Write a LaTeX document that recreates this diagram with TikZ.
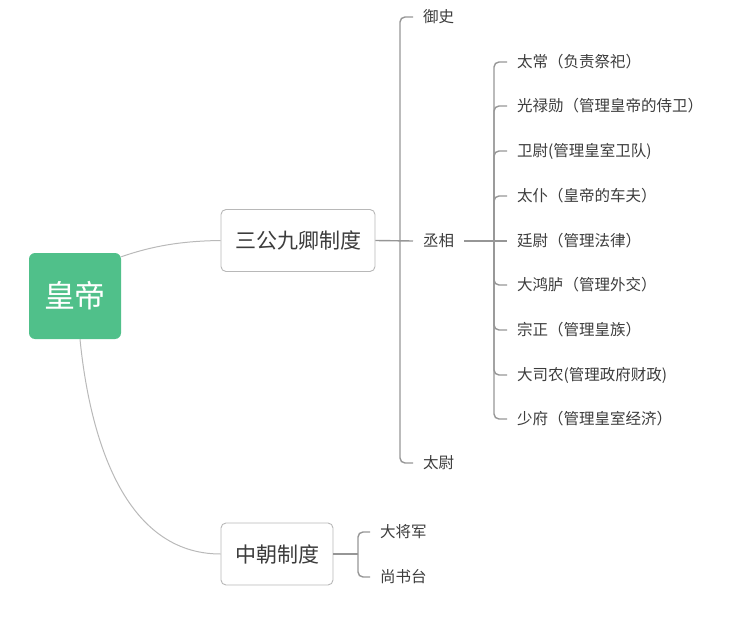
\documentclass[tikz,border=0pt]{standalone}
\usepackage{fontspec}
\setmainfont{Noto Sans CJK SC}
\usepackage{tikz}
\usetikzlibrary{calc}
\definecolor{rootgreen}{RGB}{80,192,138}
\definecolor{txtgray}{RGB}{60,60,60}
\definecolor{linegray}{RGB}{150,150,150}
\definecolor{curvegray}{RGB}{185,185,185}
\tikzset{
  rootbox/.style={fill=rootgreen,text=white,rounded corners=6pt,minimum width=92pt,minimum height=86pt,font=\fontsize{31}{36}\selectfont},
  midbox/.style={draw=black!28,line width=0.9pt,fill=white,rounded corners=5pt,minimum height=62pt,inner xsep=14pt,text=txtgray,font=\fontsize{21}{25}\selectfont},
  leaf/.style={anchor=west,inner xsep=10pt,inner ysep=2pt,text=txtgray,font=\fontsize{15.5}{18}\selectfont},
  branch/.style={draw=linegray,line width=1.4pt,rounded corners=5pt},
  curve/.style={draw=curvegray,line width=1pt}
}

\begin{document}
\begin{tikzpicture}[x=1pt,y=-1pt]
%\draw[help lines] (0,0) grid (748,618);
\useasboundingbox (0,0) rectangle (748,618);

\node[rootbox] (hd) at (75,296) {皇帝};
\node[midbox] (sg) at (298,240.5) {三公九卿制度};
\node[midbox] (zc) at (277,554) {中朝制度};

\draw[curve] ([yshift=-4pt]hd.north east) .. controls (155,245) and (185,241) .. (sg.west);
\draw[curve] ([xshift=5pt]hd.south) .. controls (90,440) and (125,554) .. (zc.west);

% san gong
\node[leaf] (ys) at (413,17) {御史};
\node[leaf] (cx) at (413,241) {丞相};
\node[leaf] (tw) at (413,463) {太尉};
\coordinate (t1) at (400,241);
\draw[branch] (sg.east) -- (cx.west);
\draw[branch] (t1) |- (ys.west);
\draw[branch] (t1) |- (tw.west);

% jiu qing
\node[leaf] (tc) at (507,62) {太常（负责祭祀）};
\node[leaf] (gl) at (507,106) {光禄勋（管理皇帝的侍卫）};
\node[leaf] (wy) at (507,151) {卫尉(管理皇室卫队)};
\node[leaf] (tp) at (507,196) {太仆（皇帝的车夫）};
\node[leaf] (ty) at (507,241) {廷尉（管理法律）};
\node[leaf] (dh) at (507,285) {大鸿胪（管理外交）};
\node[leaf] (zz) at (507,330) {宗正（管理皇族）};
\node[leaf] (ds) at (507,375) {大司农(管理政府财政)};
\node[leaf] (sf) at (507,419) {少府（管理皇室经济）};
\coordinate (t2) at (494,241);
\draw[branch] (cx.east) -- (ty.west);
\draw[branch] (t2) |- (tc.west);
\draw[branch] (t2) |- (gl.west);
\draw[branch] (t2) |- (wy.west);
\draw[branch] (t2) |- (tp.west);
\draw[branch] (t2) |- (dh.west);
\draw[branch] (t2) |- (zz.west);
\draw[branch] (t2) |- (ds.west);
\draw[branch] (t2) |- (sf.west);

% zhong chao
\node[leaf] (dj) at (370,532) {大将军};
\node[leaf] (ss) at (370,577) {尚书台};
\coordinate (t3) at (358,554);
\draw[branch] (zc.east) -- (t3);
\draw[branch] (t3) |- (dj.west);
\draw[branch] (t3) |- (ss.west);
\end{tikzpicture}
\end{document}
